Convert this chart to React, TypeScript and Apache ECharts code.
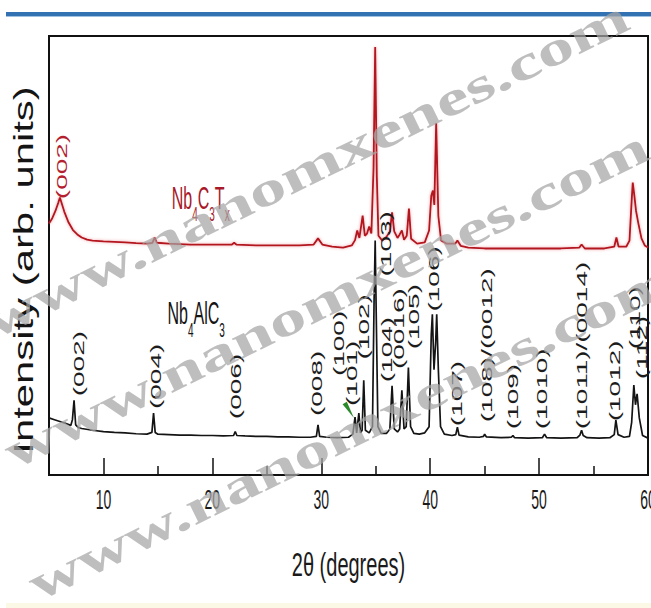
import { useEffect, useRef } from "react";
import * as echarts from "echarts";

// 2θ range and tick positions
const THETA_MIN = 5;
const THETA_MAX = 60;
const majorTicks = [10, 20, 30, 40, 50, 60];
const minorTicks = [15, 25, 35, 45, 55];

// Nb4AlC3 MAX phase pattern: [2θ, intensity (arb.)]
const nb4alc3Pattern: [number, number][] = [
  [5.0, 13.0], [5.5, 12.6], [6.0, 12.2], [6.5, 11.8], [7.0, 11.3], [7.15, 12.6], [7.3, 17.0], [7.45, 11.4],
  [7.7, 10.8], [8.0, 10.6], [9.0, 10.2], [10.0, 9.9], [11.0, 9.7], [12.0, 9.6], [13.0, 9.4], [14.0, 9.3],
  [14.45, 9.7], [14.6, 14.1], [14.75, 9.7], [15.0, 9.3], [16.0, 9.2], [17.0, 9.1], [18.0, 9.1], [19.0, 9.0],
  [20.0, 9.0], [21.0, 8.9], [21.95, 9.0], [22.1, 9.9], [22.25, 9.0], [23.0, 8.9], [24.0, 8.8], [25.0, 8.8],
  [26.0, 8.7], [27.0, 8.7], [28.0, 8.6], [29.0, 8.6], [29.55, 8.8], [29.7, 11.4], [29.85, 8.8], [30.5, 8.6],
  [31.5, 8.5], [32.5, 8.6], [32.9, 9.3], [33.1, 13.2], [33.25, 9.6], [33.45, 14.1], [33.6, 9.6], [33.75, 10.2],
  [33.9, 21.6], [34.05, 10.2], [34.4, 9.6], [34.7, 11.0], [34.85, 40.0], [34.95, 53.4], [35.05, 36.0], [35.2, 11.0],
  [35.5, 9.5], [36.0, 9.5], [36.3, 10.5], [36.5, 20.3], [36.7, 10.5], [37.0, 9.8], [37.2, 10.5], [37.4, 19.3],
  [37.6, 10.5], [37.8, 11.0], [38.0, 24.5], [38.2, 11.0], [38.5, 9.5], [39.0, 9.3], [39.5, 9.6], [39.9, 11.0],
  [40.1, 32.0], [40.2, 36.6], [40.35, 24.0], [40.5, 30.0], [40.6, 36.6], [40.75, 24.0], [40.95, 11.0], [41.3, 9.3],
  [42.0, 9.0], [42.35, 9.2], [42.5, 10.9], [42.65, 9.1], [43.5, 8.7], [44.5, 8.6], [44.9, 8.8], [45.0, 9.3],
  [45.15, 8.7], [46.5, 8.5], [47.45, 8.6], [47.6, 9.0], [47.75, 8.5], [49.0, 8.4], [50.3, 8.5], [50.5, 9.3],
  [50.7, 8.5], [52.0, 8.4], [53.5, 8.5], [53.75, 9.1], [53.9, 10.2], [54.05, 9.0], [54.4, 8.5], [55.5, 8.4],
  [56.5, 8.5], [56.9, 9.2], [57.05, 12.5], [57.25, 9.2], [57.8, 8.6], [58.3, 8.8], [58.5, 12.0], [58.7, 20.5],
  [58.85, 16.0], [59.0, 18.5], [59.2, 13.0], [59.5, 9.0], [60.0, 8.4],
];

// Nb4C3Tx MXene pattern: [2θ, intensity (arb.)]
const nb4c3txPattern: [number, number][] = [
  [5.0, 57.3], [5.3, 58.5], [5.6, 60.2], [5.85, 62.0], [6.0, 63.2], [6.15, 62.0], [6.4, 60.0], [6.8, 57.5],
  [7.2, 55.8], [7.6, 54.8], [8.0, 54.1], [8.5, 53.6], [9.0, 53.4], [10.0, 53.2], [11.0, 53.1], [12.0, 53.0],
  [13.0, 52.8], [14.0, 52.7], [14.5, 52.9], [14.7, 54.1], [14.9, 52.9], [16.0, 52.7], [18.0, 52.5], [20.0, 52.5],
  [21.8, 52.5], [22.0, 52.9], [22.2, 52.5], [24.0, 52.3], [26.0, 52.3], [28.0, 52.3], [29.3, 52.5], [29.7, 53.9],
  [30.1, 52.5], [31.0, 52.0], [32.0, 51.8], [32.8, 52.3], [33.1, 53.5], [33.3, 55.7], [33.5, 54.0], [33.8, 59.1],
  [34.0, 54.5], [34.2, 55.0], [34.4, 56.6], [34.6, 55.0], [34.8, 70.0], [34.95, 97.5], [35.1, 68.0], [35.25, 54.5],
  [35.6, 53.4], [36.0, 54.3], [36.3, 55.5], [36.5, 59.8], [36.7, 55.5], [37.0, 54.0], [37.2, 54.8], [37.4, 55.7],
  [37.6, 53.6], [37.85, 54.5], [38.05, 60.7], [38.25, 53.8], [38.8, 52.7], [39.5, 53.0], [39.9, 55.7], [40.1, 63.6],
  [40.25, 64.8], [40.38, 61.5], [40.55, 80.2], [40.75, 59.0], [41.0, 53.4], [41.5, 52.7], [42.3, 52.7], [42.5, 53.4],
  [42.8, 52.2], [43.5, 51.8], [45.0, 51.6], [48.0, 51.6], [50.0, 51.6], [52.0, 51.6], [53.7, 51.8], [53.9, 52.5],
  [54.2, 51.6], [56.0, 51.6], [56.9, 52.0], [57.1, 54.1], [57.3, 52.0], [58.0, 52.0], [58.3, 53.4], [58.5, 62.5],
  [58.6, 66.6], [58.75, 63.6], [58.9, 60.2], [59.1, 57.5], [59.4, 53.9], [59.7, 52.3], [60.0, 51.8],
];

// Miller-index labels of the MAX phase: text, 2θ position and the intensity where each label starts
const peakLabels = [
  "(002)", "(004)", "(006)", "(008)", "(100)", "(101)", "(102)", "(103)", "(104)", "(0016)",
  "(105)", "(106)", "(107)", "(108)/(0012)", "(109)", "(1010)", "(1011)/(0014)", "(1012)", "(110)", "(112)",
];
const peakLabelTheta = [
  7.79, 14.87, 22.2, 29.67, 31.69, 32.89, 33.99, 36.0, 36.1, 37.2,
  38.58, 40.33, 42.5, 45.2, 47.6, 50.3, 53.97, 57.0, 58.8, 59.5,
];
const peakLabelBase = [
  17.7, 14.8, 12.5, 13.2, 22.3, 15.5, 26.1, 45.0, 20.9, 23.9,
  28.4, 37.0, 10.9, 11.8, 10.2, 10.2, 10.2, 12.0, 28.4, 21.6,
];

// MXene basal reflection label
const mxenePeakLabel = "(002)";
const mxenePeakTheta = 6.23;
const mxenePeakBase = 62.6;

// Phase names (baseline-left anchors in data units)
const maxPhaseFormula: [string, boolean][] = [["Nb", false], ["4", true], ["AlC", false], ["3", true]];
const mxeneFormula: [string, boolean][] = [["Nb", false], ["4", true], ["C", false], ["3", true], ["T", false], ["x", true]];
const maxPhaseAnchor: [number, number] = [15.88, 34.5];
const mxeneAnchor: [number, number] = [16.27, 60.7];

// Small green arrow pointing at the (101) reflection
const arrowTail: [number, number] = [32.15, 16.4];
const arrowTip: [number, number] = [33.0, 13.0];

const WATERMARK = "www.nanomxenes.com";
const SANS = '"Liberation Sans", Arial, sans-serif';
const SERIF = '"Liberation Serif", "Times New Roman", serif';

const measureCtx = document.createElement("canvas").getContext("2d") as CanvasRenderingContext2D;
function textWidth(text: string, size: number): number {
  measureCtx.font = `${size}px ${SANS}`;
  return measureCtx.measureText(text).width;
}

// Chemical formula with subscripts, stretched vertically like the rest of the lettering
function formulaElements(parts: [string, boolean][], left: number, baseline: number, color: string) {
  const out: any[] = [];
  let x = left;
  for (const [t, sub] of parts) {
    const size = sub ? 10 : 16;
    out.push({
      type: "text",
      x,
      y: sub ? baseline + 6 : baseline - 11,
      scaleY: 2,
      z: 40,
      silent: true,
      style: { text: t, fontSize: size, fontFamily: SANS, fill: color, align: "left", verticalAlign: "middle" },
    });
    x += textWidth(t, size);
  }
  return out;
}

export default function App() {
  const ref = useRef<HTMLDivElement>(null);

  useEffect(() => {
    const el = ref.current;
    if (!el) return;
    const chart = echarts.init(el, null, { renderer: "svg" });

    chart.setOption({
      animation: false,
      backgroundColor: "#ffffff",
      grid: {
        left: 49,
        right: 3,
        top: 36,
        bottom: 133,
        show: true,
        borderColor: "#111",
        borderWidth: 2,
        backgroundColor: "transparent",
      },
      xAxis: [
        {
          type: "value",
          min: THETA_MIN,
          max: THETA_MAX,
          position: "bottom",
          axisLine: { show: true, onZero: false, lineStyle: { color: "#111", width: 2 } },
          axisTick: { show: true, inside: true, length: 17, customValues: majorTicks, lineStyle: { color: "#111", width: 1.5 } },
          axisLabel: { show: false },
          splitLine: { show: false },
        },
        {
          type: "value",
          min: THETA_MIN,
          max: THETA_MAX,
          position: "bottom",
          offset: 0,
          axisLine: { show: false },
          axisTick: { show: true, inside: true, length: 9, customValues: minorTicks, lineStyle: { color: "#111", width: 1.5 } },
          axisLabel: { show: false },
          splitLine: { show: false },
        },
      ],
      yAxis: { type: "value", min: 0, max: 100, show: false },
      series: [
        {
          type: "line",
          name: "Nb4AlC3",
          data: nb4alc3Pattern,
          xAxisIndex: 0,
          symbol: "none",
          silent: true,
          z: 3,
          lineStyle: { color: "#141414", width: 1.7 },
        },
        {
          type: "line",
          name: "Nb4C3Tx",
          data: nb4c3txPattern,
          xAxisIndex: 0,
          symbol: "none",
          silent: true,
          z: 4,
          lineStyle: { color: "#b3141f", width: 1.8, shadowColor: "rgba(225,80,90,0.55)", shadowBlur: 3 },
        },
      ],
    });

    const toPx = (p: [number, number]) =>
      chart.convertToPixel({ xAxisIndex: 0, yAxisIndex: 0 }, p) as unknown as number[];

    const elements: any[] = [];

    // header rule and bottom strip
    elements.push({ type: "rect", shape: { x: 6, y: 12, width: 645, height: 4 }, style: { fill: "#3272b3" }, silent: true, z: 1 });
    elements.push({ type: "rect", shape: { x: 6, y: 16, width: 645, height: 1 }, style: { fill: "#9fc0e0" }, silent: true, z: 1 });
    elements.push({ type: "rect", shape: { x: 6, y: 603, width: 645, height: 5 }, style: { fill: "#fbf8e6" }, silent: true, z: 1 });

    // y axis title
    elements.push({
      type: "text",
      x: 23,
      y: 270,
      rotation: Math.PI / 2,
      scaleX: 1.55,
      z: 30,
      silent: true,
      style: { text: "Intensity (arb. units)", fontSize: 27, fontFamily: SANS, fill: "#141414", align: "center", verticalAlign: "middle" },
    });

    // x tick labels
    const axisY = toPx([THETA_MIN, 0])[1];
    for (const v of majorTicks) {
      const [px] = toPx([v, 0]);
      elements.push({
        type: "text",
        x: px,
        y: axisY + 25,
        scaleY: 2,
        z: 30,
        silent: true,
        style: { text: String(v), fontSize: 14, fontFamily: SANS, fill: "#1a1a1a", align: "center", verticalAlign: "middle" },
      });
    }

    // x axis title
    const midX = (toPx([THETA_MIN, 0])[0] + toPx([THETA_MAX, 0])[0]) / 2;
    elements.push({
      type: "text",
      x: midX,
      y: axisY + 89,
      scaleY: 1.7,
      z: 30,
      silent: true,
      style: { text: "2θ (degrees)", fontSize: 20, fontFamily: SANS, fill: "#1a1a1a", align: "center", verticalAlign: "middle" },
    });

    // phase names
    const mxA = toPx(mxeneAnchor);
    elements.push(...formulaElements(mxeneFormula, mxA[0], mxA[1], "#a8192a"));
    const maxA = toPx(maxPhaseAnchor);
    elements.push(...formulaElements(maxPhaseFormula, maxA[0], maxA[1], "#141414"));

    // peak index labels
    peakLabels.forEach((label, i) => {
      const [px, py] = toPx([peakLabelTheta[i], peakLabelBase[i]]);
      elements.push({
        type: "text",
        x: px,
        y: py - 1,
        rotation: Math.PI / 2,
        scaleX: 2.0,
        z: 35,
        silent: true,
        style: { text: label, fontSize: 14, fontFamily: SANS, fill: "#1c1c1c", align: "left", verticalAlign: "middle" },
      });
    });
    {
      const [px, py] = toPx([mxenePeakTheta, mxenePeakBase]);
      elements.push({
        type: "text",
        x: px,
        y: py - 1,
        rotation: Math.PI / 2,
        scaleX: 2.0,
        z: 35,
        silent: true,
        style: { text: mxenePeakLabel, fontSize: 14, fontFamily: SANS, fill: "#b3202e", align: "left", verticalAlign: "middle" },
      });
    }

    // green arrow
    {
      const t = toPx(arrowTail);
      const h = toPx(arrowTip);
      const dx = h[0] - t[0];
      const dy = h[1] - t[1];
      const len = Math.hypot(dx, dy) || 1;
      const nx = (-dy / len) * 2.5;
      const ny = (dx / len) * 2.5;
      elements.push({
        type: "polygon",
        shape: { points: [[t[0] + nx, t[1] + ny], [t[0] - nx, t[1] - ny], [h[0], h[1]]] },
        style: { fill: "#2b8a2b" },
        silent: true,
        z: 36,
      });
    }

    // watermark lines
    const wmAngle = (26 * Math.PI) / 180;
    const wmStarts: [number, number][] = [[-13, 325], [7, 455], [31, 587]];
    for (const [x, y] of wmStarts) {
      elements.push({
        type: "text",
        x,
        y,
        rotation: wmAngle,
        scaleX: 1.5,
        z: 100,
        silent: true,
        style: {
          text: WATERMARK,
          fontSize: 49,
          fontWeight: "bold",
          fontFamily: SERIF,
          fill: "rgba(165,165,165,0.72)",
          align: "left",
          verticalAlign: "middle",
        },
      });
    }

    chart.setOption({ graphic: { elements } });

    return () => chart.dispose();
  }, []);

  return (
    <div
      ref={ref}
      style={{ position: "fixed", left: 0, top: 0, width: 651, height: 608, background: "#ffffff" }}
    />
  );
}
